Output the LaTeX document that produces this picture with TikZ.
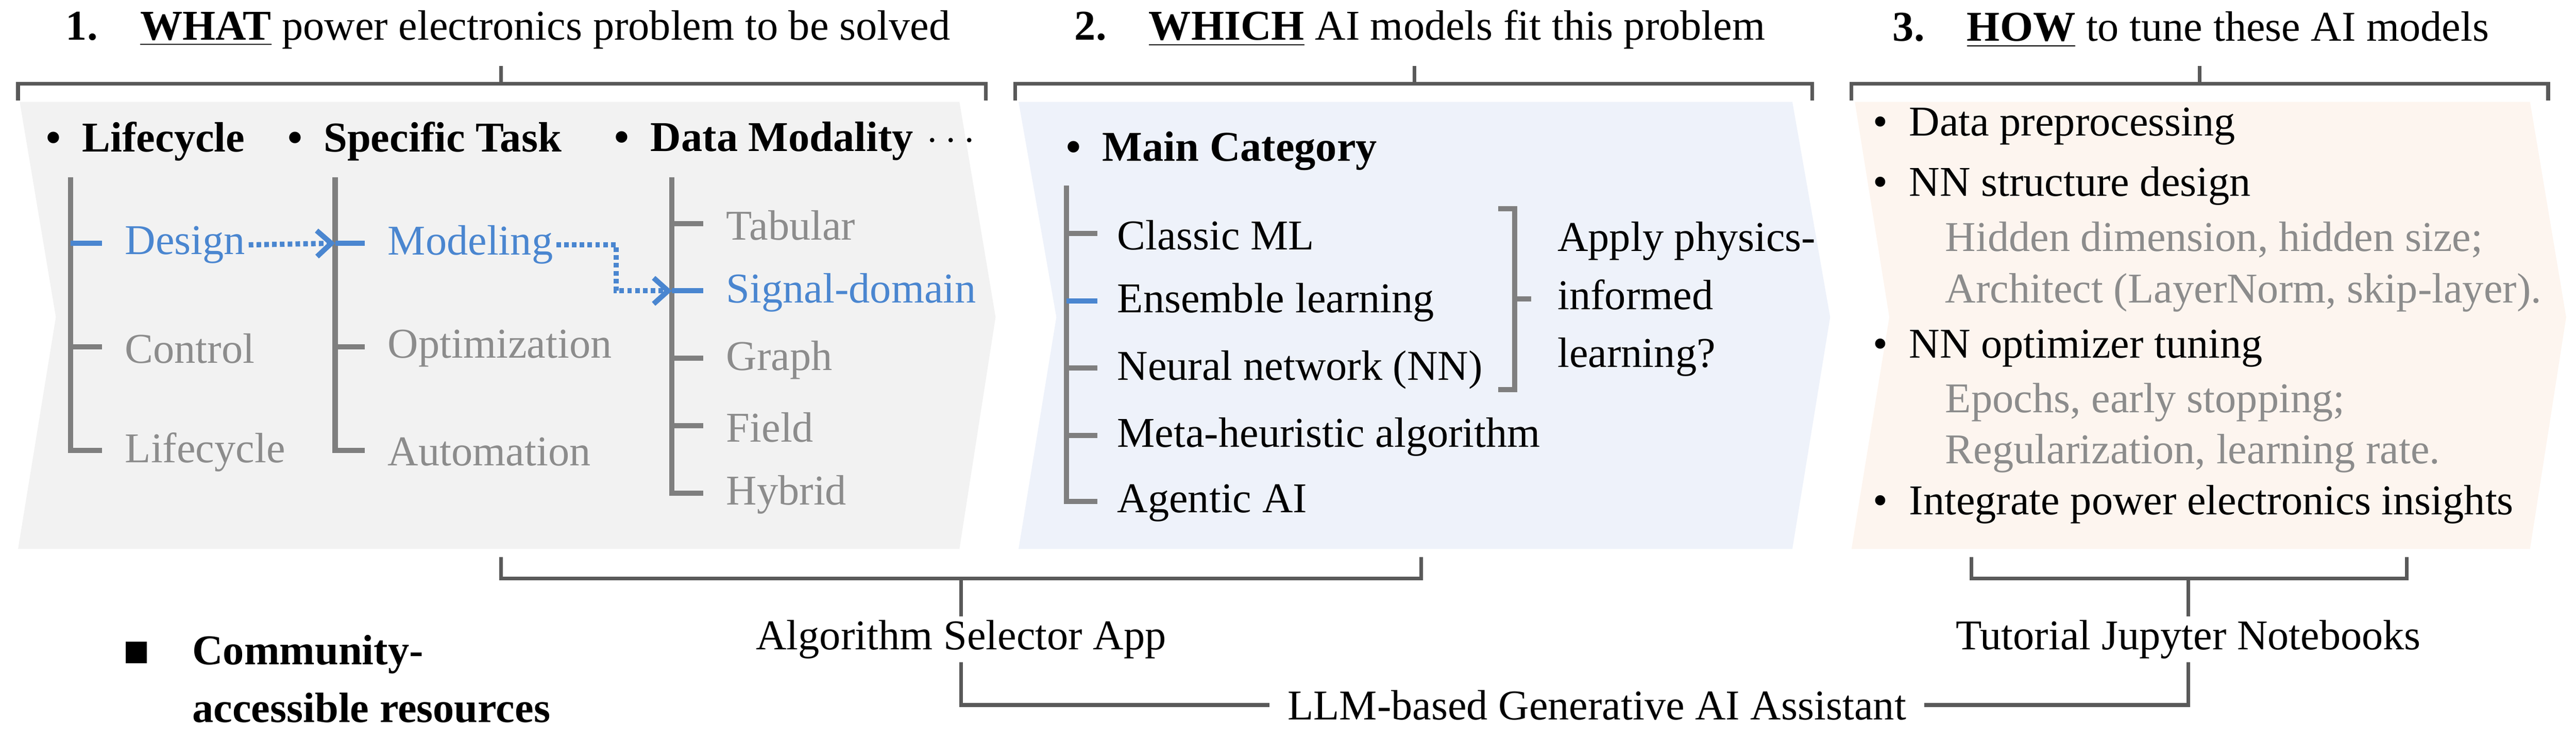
\documentclass[tikz,border=0pt]{standalone}
\usepackage{fontspec}
\setmainfont{Liberation Serif}
\usetikzlibrary{arrows.meta}
\definecolor{treegray}{HTML}{7F7F7F}
\definecolor{softgray}{HTML}{8C8C8C}
\definecolor{pickblue}{HTML}{4A86D0}
\definecolor{brackgray}{HTML}{595959}
\definecolor{whatfill}{HTML}{F2F2F2}
\definecolor{whichfill}{HTML}{EEF2FA}
\definecolor{howfill}{HTML}{FDF5EF}
\tikzset{
  txt/.style={anchor=west, inner sep=1pt, font=\fontsize{14.7}{17}\selectfont},
  head/.style={txt, font=\fontsize{14.7}{17}\selectfont\bfseries},
  branch/.style={treegray, line width=1.8pt},
  brack/.style={brackgray, line width=1.3pt},
  pick/.style={pickblue, line width=1.8pt, dash pattern=on 1.6pt off 1.1pt, -{Straight Barb[length=5pt,width=9pt]}},
}
\begin{document}
\begin{tikzpicture}[x=0.02cm, y=-0.02cm]
        \useasboundingbox (0,0) rectangle (1568,449);

        % Panels
        \fill[whatfill] (12,62) -- (584,62) -- (606,193) -- (584,334) -- (11,334) -- (34,193) -- cycle;
        \fill[whichfill] (620,62) -- (1091,62) -- (1114,193) -- (1091,334) -- (620,334) -- (643,193) -- cycle;
        \fill[howfill] (1129,62) -- (1540,62) -- (1562,193) -- (1540,334) -- (1127,334) -- (1150,193) -- cycle;

        % Titles
        \node[txt] (what) at (38,18) {\textbf{1.}\quad\underline{\textbf{WHAT}} power electronics problem to be solved};
        \node[txt] (which) at (652,18) {\textbf{2.}\quad\underline{\textbf{WHICH}} AI models fit this problem};
        \node[txt] (how) at (1150,18) {\textbf{3.}\quad\underline{\textbf{HOW}} to tune these AI models};

        % Top brackets
        \draw[brack] (11,61) |- (600,51) -- (600,61) (305,40) -- (305,51);
        \draw[brack] (618,61) |- (1103,51) -- (1103,61) (861,40) -- (861,51);
        \draw[brack] (1127,61) |- (1551,51) -- (1551,61) (1339,40) -- (1339,51);

        % Panel 1 heads
        \node[head] (life) at (26,86) {•\enspace Lifecycle};
        \node[head] (task) at (173,86) {•\enspace Specific Task};
        \node[head] (mod) at (372,86) {•\enspace Data Modality};
        \node[txt] (more) at (562,86) {$\cdots$};

        % Panel 1 trees
        \draw[branch] (43,108) |- (62,274);
        \draw[branch] (204,108) |- (222,274);
        \draw[branch] (409,108) |- (428,300);
        \foreach \y in {211} {\draw[branch] (43,\y) -- (62,\y); \draw[branch] (204,\y) -- (222,\y);}
        \foreach \y in {136,218,259} \draw[branch] (409,\y) -- (428,\y);
        \draw[pickblue, line width=1.8pt] (43,148) -- (62,148) (204,148) -- (222,148) (409,177) -- (428,177);

        \node[txt, pickblue] (design) at (74,149) {Design};
        \node[txt, softgray] (control) at (74,212) {Control};
        \node[txt, softgray] (lifec) at (74,275) {Lifecycle};
        \node[txt, pickblue] (modeling) at (234,149) {Modeling};
        \node[txt, softgray] (optim) at (234,212) {Optimization};
        \node[txt, softgray] (auto) at (234,275) {Automation};
        \node[txt, softgray] (tab) at (440,137) {Tabular};
        \node[txt, pickblue] (signal) at (440,178) {Signal-domain};
        \node[txt, softgray] (graph) at (440,219) {Graph};
        \node[txt, softgray] (field) at (440,260) {Field};
        \node[txt, softgray] (hybrid) at (440,301) {Hybrid};

        \coordinate (hop1) at (204,148);
        \coordinate (hop2) at (409,177);
        \draw[pick] (design.east) -- (hop1);
        \draw[pick] (modeling.east) -| (375,177) -- (hop2);

        % Panel 2
        \node[head] (main) at (647,92) {•\enspace Main Category};
        \draw[branch] (649,113) |- (668,305);
        \foreach \y in {142,224,265} \draw[branch] (649,\y) -- (668,\y);
        \draw[pickblue, line width=1.8pt] (649,183) -- (668,183);
        \node[txt] (classic) at (678,143) {Classic ML};
        \node[txt] (ensemble) at (678,184) {Ensemble learning};
        \node[txt] (neural) at (678,225) {Neural network (NN)};
        \node[txt] (meta) at (678,266) {Meta-heuristic algorithm};
        \node[txt] (agentic) at (678,306) {Agentic AI};
        \draw[branch] (912,127) -- (922,127) -- (922,237) -- (912,237) (922,182) -- (932,182);
        \node[txt, align=left] (physics) at (946,182) {Apply physics-\\[3pt]informed\\[3pt]learning?};

        % Panel 3
        \node[txt] (prep) at (1138,77) {•\enspace Data preprocessing};
        \node[txt] (struct) at (1138,113) {•\enspace NN structure design};
        \node[txt, softgray] (hidden) at (1182,146) {Hidden dimension, hidden size;};
        \node[txt, softgray] (arch) at (1182,178) {Architect (LayerNorm, skip-layer).};
        \node[txt] (optz) at (1138,212) {•\enspace NN optimizer tuning};
        \node[txt, softgray] (epochs) at (1182,245) {Epochs, early stopping;};
        \node[txt, softgray] (reg) at (1182,276) {Regularization, learning rate.};
        \node[txt] (insight) at (1138,307) {•\enspace Integrate power electronics insights};

        % Resources
        \node[txt, anchor=center] (alg) at (585,389) {Algorithm Selector App};
        \node[txt, anchor=center] (tut) at (1332,389) {Tutorial Jupyter Notebooks};
        \node[txt, anchor=center, inner sep=6pt] (llm) at (972,429) {LLM-based Generative AI Assistant};
        \node[fill=black, minimum size=0.26cm, inner sep=0pt] (sq) at (83,397) {};
        \node[head, align=left] (comm) at (115,413) {Community-\\[3pt]accessible resources};

        \draw[brack] (305,339) |- (865,352) -- (865,339);
        \draw[brack] (1200,339) |- (1465,352) -- (1465,339);
        \draw[brack] (585,352) -- (alg.north);
        \draw[brack] (1332,352) -- (tut.north);
        \draw[brack] (alg.south) |- (llm.west);
        \draw[brack] (tut.south) |- (llm.east);
\end{tikzpicture}
\end{document}
